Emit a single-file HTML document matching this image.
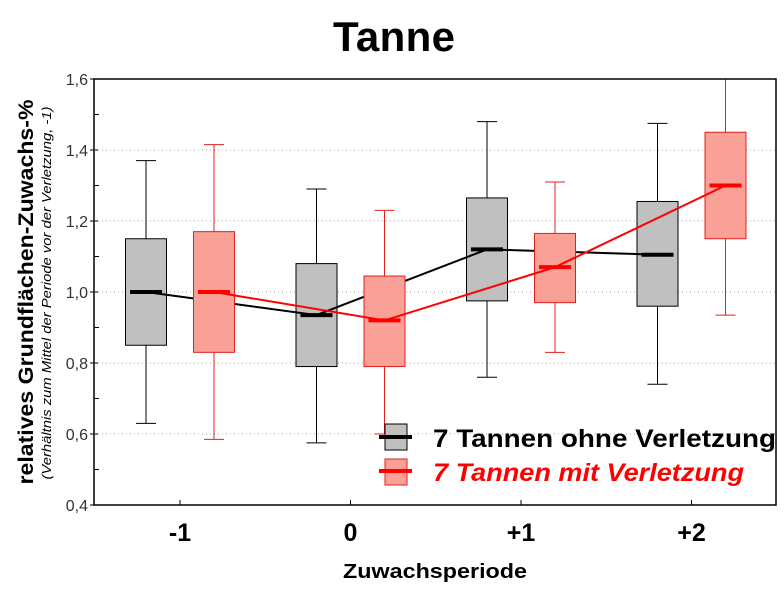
<!DOCTYPE html>
<html><head><meta charset="utf-8"><style>
body{margin:0;background:#fff}
svg text{font-family:"Liberation Sans",Arial,sans-serif}
</style></head><body>
<svg id="c" width="784" height="588" xmlns="http://www.w3.org/2000/svg">
<text x="394" y="51" font-size="42" font-weight="bold" text-anchor="middle" textLength="122">Tanne</text>
<text transform="translate(33,292) rotate(-90)" font-size="21" font-weight="bold" text-anchor="middle" textLength="385" lengthAdjust="spacingAndGlyphs">relatives Grundflächen-Zuwachs-%</text>
<text transform="translate(51,293) rotate(-90)" font-size="13" font-style="italic" text-anchor="middle" textLength="373" lengthAdjust="spacingAndGlyphs">(Verhältnis zum Mittel der Periode vor der Verletzung, -1)</text>
<text x="435" y="578" font-size="20" font-weight="bold" text-anchor="middle" textLength="184" lengthAdjust="spacingAndGlyphs">Zuwachsperiode</text>
<g id="g"></g>
<rect x="94" y="79" width="682" height="426" fill="none" stroke="#000" stroke-width="1.5"/>
<g>
<rect x="385" y="424" width="22" height="26" fill="#c0c0c0" stroke="#000"/>
<line x1="379" y1="437" x2="412" y2="437" stroke="#000" stroke-width="4"/>
<text x="433" y="447" font-size="25" font-weight="bold" textLength="343" lengthAdjust="spacingAndGlyphs">7 Tannen ohne Verletzung</text>
<rect x="385" y="459" width="22" height="26" fill="#f9a097" stroke="#e02020"/>
<line x1="379" y1="471" x2="412" y2="471" stroke="#f00" stroke-width="4"/>
<text x="433" y="481" font-size="25" font-weight="bold" font-style="italic" fill="#f00" textLength="311" lengthAdjust="spacingAndGlyphs">7 Tannen mit Verletzung</text>
</g>
</svg>
<script>
const categories=["-1","0","+1","+2"];
const yTicks=[0.4,0.6,0.8,1.0,1.2,1.4,1.6];
const ohneMin=[0.63,0.575,0.76,0.74];
const ohneQ1=[0.85,0.79,0.975,0.96];
const ohneMed=[1.0,0.935,1.12,1.105];
const ohneQ3=[1.15,1.08,1.265,1.255];
const ohneMax=[1.37,1.29,1.48,1.475];
const mitMin=[0.585,0.60,0.83,0.935];
const mitQ1=[0.83,0.79,0.97,1.15];
const mitMed=[1.0,0.92,1.07,1.30];
const mitQ3=[1.17,1.045,1.165,1.45];
const mitMax=[1.415,1.23,1.31,1.62];
const y=v=>505-(v-0.4)*355;
const x=i=>180+i*170.5;
const g=document.getElementById('g');
const NS="http://www.w3.org/2000/svg";
function el(t,a){const e=document.createElementNS(NS,t);for(const k in a)e.setAttribute(k,a[k]);g.appendChild(e);return e;}
for(let v=0.5;v<1.6;v+=0.1){const l=el('line',{x1:94,x2:99,y1:y(v),y2:y(v),stroke:'#000'});

}
yTicks.forEach(v=>{
 if(v>0.41&&v<1.59){const l=el('line',{x1:94,x2:776,y1:y(v),y2:y(v),stroke:'#aaa','stroke-dasharray':'1,3'});
 
 }
 const t=el('text',{x:88,y:y(v)+6,'font-size':16,'text-anchor':'end',fill:'#333'});t.textContent=v.toFixed(1).replace('.',',');
 
 
 const k=el('line',{x1:90,x2:94,y1:y(v),y2:y(v),stroke:'#000'});
 
 
});
categories.forEach((c,i)=>{
 const k=el('line',{x1:x(i),x2:x(i),y1:505,y2:500,stroke:'#000'});
 
 
 const t=el('text',{x:x(i),y:541,'font-size':25,'font-weight':'bold','text-anchor':'middle'});t.textContent=c;
 
 
});
function series(off,mn,q1,md,q3,mx,fill,stroke,med,name){
 const pts=md.map((v,i)=>(x(i)+off)+','+y(v)).join(' ');
 categories.forEach((c,i)=>{
  const cx=x(i)+off;
  const w=el('line',{x1:cx,x2:cx,y1:y(Math.min(mx[i],1.6)),y2:y(mn[i]),stroke:stroke});
  
  
  [mn[i],mx[i]].forEach(v=>{if(v<=1.6){const cap=el('line',{x1:cx-10,x2:cx+10,y1:y(v),y2:y(v),stroke:stroke});
  
  }});
  const b=el('rect',{x:cx-20.5,y:y(q3[i]),width:41,height:y(q1[i])-y(q3[i]),fill:fill,stroke:stroke});
  
  
 });
 const pl=el('polyline',{points:pts,fill:'none',stroke:med,'stroke-width':2});
 
 
 md.forEach((v,i)=>{const cx=x(i)+off;const m=el('line',{x1:cx-16,x2:cx+16,y1:y(v),y2:y(v),stroke:med,'stroke-width':4});
 
 });
}
series(-34,ohneMin,ohneQ1,ohneMed,ohneQ3,ohneMax,'#c0c0c0','#000','#000','ohne');
series(34,mitMin,mitQ1,mitMed,mitQ3,mitMax,'#f9a097','#e02020','#f00','mit');
</script>
</body></html>
